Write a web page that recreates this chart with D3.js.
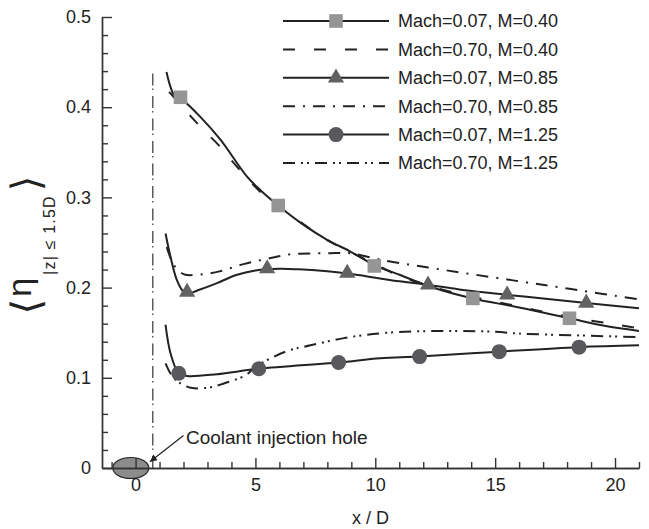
<!DOCTYPE html>
<html>
<head>
<meta charset="utf-8">
<script src="https://cdn.jsdelivr.net/npm/d3@7"></script>
<style>
  html, body { margin: 0; padding: 0; background: #fff; }
  svg { display: block; font-family: "Liberation Sans", Arial, sans-serif; }
  .axis path, .axis line { stroke: #333; stroke-width: 1.4; }
  .axis text { font-size: 18px; fill: #222; font-family: "Liberation Sans", Arial, sans-serif; }
  .curve { fill: none; stroke: #222; stroke-width: 2; stroke-linejoin: round; }
</style>
</head>
<body>
<svg id="chart" width="649" height="529"></svg>
<script>
"use strict";

// ---- dados (x/D, eta medio) -------------------------------------------------
const LABELS = [
  "Mach=0.07, M=0.40", "Mach=0.70, M=0.40",
  "Mach=0.07, M=0.85", "Mach=0.70, M=0.85",
  "Mach=0.07, M=1.25", "Mach=0.70, M=1.25",
];

const lowM040 = [[1.29,0.439],[1.45,0.423],[1.6,0.414],[1.875,0.410],[2.71,0.389],[3.54,0.364],
  [4.65,0.323],[5.21,0.308],[5.95,0.291],[6.875,0.272],[7.99,0.253],[8.96,0.240],[9.96,0.225],
  [11.04,0.214],[12.3,0.201],[14.07,0.188],[16,0.178],[18.1,0.166],[19.5,0.158],[21,0.152]];
const highM040 = [[1.4,0.417],[1.9,0.402],[2.4,0.387],[2.9,0.373],[3.5,0.357],[4.1,0.338],
  [4.8,0.317],[5.5,0.299],[6.6,0.278],[7.9,0.254],[9,0.239],[10,0.226],[11,0.213],[12.5,0.200],
  [14,0.190],[16,0.179],[18,0.168],[21,0.155]];
const lowM085 = [[1.25,0.260],[1.45,0.235],[1.7,0.210],[1.95,0.197],[2.15,0.193],[2.6,0.197],
  [3.4,0.205],[4.2,0.214],[5.0,0.219],[6.0,0.221],[7.0,0.220],[8.0,0.218],[9.0,0.215],
  [10.0,0.211],[11.0,0.207],[12.2,0.203],[13.5,0.198],[15.5,0.192],[17,0.188],[18.8,0.183],[21,0.177]];
const highM085 = [[1.3,0.245],[1.6,0.225],[2.0,0.215],[2.5,0.214],[3.5,0.218],[4.5,0.226],
  [5.5,0.232],[6.5,0.237],[8.0,0.238],[9.0,0.238],[10.2,0.231],[12.15,0.2225],[15.75,0.208],
  [18.5,0.197],[21,0.187]];
const lowM125 = [[1.25,0.159],[1.46,0.127],[1.8,0.105],[2.15,0.102],[3.4,0.104],[5.14,0.110],
  [8.47,0.117],[10.2,0.1216],[11.85,0.1235],[15.17,0.129],[18.5,0.134],[21,0.136]];
const highM125 = [[1.25,0.116],[1.5,0.103],[1.8,0.095],[2.3,0.089],[3.0,0.089],[3.6,0.093],
  [4.6,0.103],[5.0,0.112],[6.25,0.129],[7.3,0.136],[8.7,0.144],[10.5,0.150],[13,0.152],
  [15,0.151],[16,0.149],[18.5,0.147],[21,0.145]];

const squares   = [[1.875,0.411],[5.95,0.291],[9.96,0.224],[14.07,0.188],[18.1,0.166]];
const triangles = [[2.15,0.195],[5.49,0.221],[8.83,0.216],[12.2,0.203],[15.5,0.192],[18.8,0.183]];
const circles   = [[1.8,0.105],[5.14,0.110],[8.47,0.117],[11.85,0.1235],[15.17,0.129],[18.5,0.134]];

const X_TICKS = [0, 5, 10, 15, 20];
const Y_TICKS = [0, 0.1, 0.2, 0.3, 0.4, 0.5];

// furo de injecao e linha vertical (borda do furo)
const HOLE_X = [-0.95, 0.55];
const EDGE_X = 0.72, EDGE_TOP = 0.442;
const NOTE = "Coolant injection hole";

// ---- estilos (separados dos dados) ------------------------------------------
const SERIES = [lowM040, highM040, lowM085, highM085, lowM125, highM125];
const DASH = [null, "12,19", null, "12,8,2,8", null, "12,6,2,4,2,6"];
const MARK = ["square", null, "triangle", null, "circle", null];
const MARK_DATA = { square: squares, triangle: triangles, circle: circles };
const MARK_FILL = { square: "#959595", triangle: "#626262", circle: "#58585d" };

const svg = d3.select("#chart");
const x = d3.scaleLinear().domain([-1.4, 21]).range([102, 639]);
const y = d3.scaleLinear().domain([0, 0.5]).range([468, 17]);

// ---- furo (desenhado antes dos eixos) ---------------------------------------
svg.append("ellipse")
  .attr("cx", x((HOLE_X[0] + HOLE_X[1]) / 2)).attr("cy", y(0))
  .attr("rx", (x(HOLE_X[1]) - x(HOLE_X[0])) / 2).attr("ry", 10.5)
  .attr("fill", "#8c8c8c").attr("stroke", "#222").attr("stroke-width", 1.2);

svg.append("line")
  .attr("x1", x(EDGE_X)).attr("x2", x(EDGE_X)).attr("y1", y(0)).attr("y2", y(EDGE_TOP))
  .attr("stroke", "#222").attr("stroke-width", 1.1).attr("stroke-dasharray", "12,6,1.5,3");

// ---- eixos (ticks para dentro) ----------------------------------------------
const fmtY = (d) => d === 0 ? "0" : d3.format(".1f")(d);
svg.append("g").attr("class", "axis").attr("transform", `translate(${x.range()[0]},0)`)
  .call(d3.axisLeft(y).tickValues(d3.range(0, 0.501, 0.02).filter((v) => Math.abs(v * 10 - Math.round(v * 10)) > 1e-6))
    .tickSize(-6).tickSizeOuter(0).tickFormat(""));
svg.append("g").attr("class", "axis").attr("transform", `translate(${x.range()[0]},0)`)
  .call(d3.axisLeft(y).tickValues(Y_TICKS).tickSize(-10).tickSizeOuter(0).tickPadding(11).tickFormat(fmtY));

svg.append("g").attr("class", "axis").attr("transform", `translate(0,${y(0)})`)
  .call(d3.axisBottom(x).tickValues(d3.range(-1, 22, 1).filter((v) => v % 5 !== 0))
    .tickSize(-6).tickSizeOuter(0).tickFormat(""));
svg.append("g").attr("class", "axis").attr("transform", `translate(0,${y(0)})`)
  .call(d3.axisBottom(x).tickValues(X_TICKS).tickSize(-10).tickSizeOuter(0).tickPadding(10));

svg.append("text").attr("x", (x.range()[0] + x.range()[1]) / 2).attr("y", 524)
  .attr("text-anchor", "middle").attr("font-size", 18).attr("fill", "#222").text("x / D");

// rotulo do eixo y: <eta_{|z|<=1.5D}>
const yl = svg.append("text").attr("transform", "translate(31,245) rotate(-90)")
  .attr("text-anchor", "middle").attr("fill", "#222");
yl.append("tspan").attr("font-size", 40).attr("dy", 9).attr("font-family", "DejaVu Sans").text("\u27E8");
yl.append("tspan").attr("font-size", 34).attr("dy", -9).attr("dx", 2).text("η");
yl.append("tspan").attr("font-size", 16).attr("dy", 24).attr("dx", 3)
  .attr("letter-spacing", 1.2).text("|z| ≤ 1.5D");
yl.append("tspan").attr("font-size", 40).attr("dy", -15).attr("dx", 4).attr("font-family", "DejaVu Sans").text("\u27E9");

// ---- curvas --------------------------------------------------------------
const line = d3.line().x((d) => x(d[0])).y((d) => y(d[1])).curve(d3.curveCatmullRom.alpha(0.5));
svg.append("g").selectAll("path").data(SERIES).join("path")
  .attr("class", "curve").attr("d", line)
  .attr("stroke-dasharray", (d, i) => DASH[i]);

// ---- marcadores -----------------------------------------------------------
function drawMarker(sel, type) {
  if (type === "circle") return sel.append("circle").attr("r", 7.5).attr("fill", MARK_FILL.circle);
  const sym = type === "square" ? d3.symbol(d3.symbolSquare, 185) : d3.symbol(d3.symbolTriangle, 115);
  return sel.append("path").attr("d", sym()).attr("fill", MARK_FILL[type]);
}
Object.keys(MARK_DATA).forEach((type) => {
  svg.append("g").selectAll("g").data(MARK_DATA[type]).join("g")
    .attr("transform", (d) => `translate(${x(d[0])},${y(d[1])})`)
    .each(function () { drawMarker(d3.select(this), type); });
});

// ---- nota com seta ---------------------------------------------------------
svg.append("defs").append("marker").attr("id", "arrow")
  .attr("viewBox", "0 0 10 10").attr("refX", 10).attr("refY", 5)
  .attr("markerWidth", 9).attr("markerHeight", 7).attr("markerUnits", "userSpaceOnUse")
  .attr("orient", "auto")
  .append("path").attr("d", "M0,0 L10,5 L0,10 z").attr("fill", "#222");
svg.append("line")
  .attr("x1", x(2.0)).attr("y1", y(0.036)).attr("x2", x(0.6)).attr("y2", y(0.007))
  .attr("stroke", "#222").attr("stroke-width", 1.2).attr("marker-end", "url(#arrow)");
svg.append("text").attr("x", x(2.1)).attr("y", y(0.027)).attr("font-size", 19).attr("fill", "#222").text(NOTE);

// ---- legenda ----------------------------------------------------------------
const LEG_X0 = 283, LEG_X1 = 389, LEG_Y0 = 21, LEG_DY = 28.4;
const leg = svg.append("g").selectAll("g").data(LABELS).join("g")
  .attr("transform", (d, i) => `translate(0,${LEG_Y0 + i * LEG_DY})`);
leg.append("line").attr("x1", LEG_X0).attr("x2", LEG_X1)
  .attr("class", "curve").attr("stroke-dasharray", (d, i) => DASH[i]);
leg.each(function (d, i) {
  if (!MARK[i]) return;
  const g = d3.select(this).append("g").attr("transform", `translate(${(LEG_X0 + LEG_X1) / 2},0)`);
  drawMarker(g, MARK[i]);
});
leg.append("text").attr("x", LEG_X1 + 9).attr("dy", "0.35em")
  .attr("font-size", 18).attr("fill", "#222").text((d) => d);
</script>
</body>
</html>
